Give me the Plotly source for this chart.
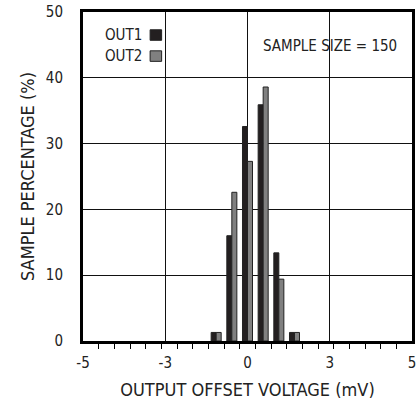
import plotly.graph_objects as go

# ---- data ----
n_bins = 21
x_min, x_max = -5.0, 5.0
bin_width = (x_max - x_min) / n_bins
bin_index = [8, 9, 10, 11, 12, 13]          # bins holding samples
out1_pct = [1.3, 16.0, 32.6, 35.9, 13.4, 1.3]
out2_pct = [1.3, 22.6, 27.3, 38.6, 9.4, 1.3]
tick_vals = [-5, -2.5, 0, 2.5, 5]
tick_text = ["-5", "-3", "0", "3", "5"]
y_ticks = [0, 10, 20, 30, 40, 50]

bin_centers = [x_min + bin_width * (i + 0.5) for i in bin_index]
bin_edges = [x_min + bin_width * k for k in range(1, n_bins)]

FONT = "DejaVu Sans Condensed, Liberation Sans Narrow, sans-serif"
FS = 15
DARK = "#231f20"
GRAY = "#808080"

fig = go.Figure()
fig.add_trace(go.Bar(x=bin_centers, y=out1_pct, name="OUT1",
                     marker=dict(color=DARK, line=dict(color="#222", width=1))))
fig.add_trace(go.Bar(x=bin_centers, y=out2_pct, name="OUT2",
                     marker=dict(color=GRAY, line=dict(color="#222", width=1))))

fig.update_layout(
    width=416, height=403,
    margin=dict(l=83, r=4, t=12, b=62),
    paper_bgcolor="white", plot_bgcolor="white",
    barmode="group", bargap=0.36, bargroupgap=0,
    showlegend=False,
    font=dict(family=FONT, size=FS, color="#222"),
)

fig.update_xaxes(
    range=[x_min, x_max], automargin=False,
    tickmode="array", tickvals=tick_vals, ticktext=tick_text,
    ticklabeloverflow="allow",
    ticks="outside", ticklen=6, tickcolor="rgba(0,0,0,0)",
    showgrid=True, gridcolor="#111", gridwidth=1,
    zeroline=False,
    showline=True, linecolor="black", linewidth=3, mirror=True,
    minor=dict(tickmode="array", tickvals=bin_edges, ticks="outside",
               ticklen=5, tickwidth=1, tickcolor="black", showgrid=False),
    title=dict(text="OUTPUT OFFSET VOLTAGE (mV)", standoff=13),
)
fig.update_yaxes(
    range=[0, 50], automargin=False,
    tickmode="array", tickvals=y_ticks,
    ticklabeloverflow="allow",
    ticks="", showgrid=True, gridcolor="#111", gridwidth=1,
    zeroline=False,
    showline=True, linecolor="black", linewidth=3, mirror=True,
    ticklabelstandoff=14,
    title=dict(text="SAMPLE PERCENTAGE (%)", standoff=7),
)

# legend drawn as text + swatches (text left of swatch, as in the reference)
for label, color, yc in [("OUT1", DARK, 46.5), ("OUT2", GRAY, 43.3)]:
    fig.add_annotation(x=-4.4, y=yc, text=label, showarrow=False,
                       xanchor="left", yanchor="middle",
                       font=dict(family=FONT, size=FS, color="#222"))
    fig.add_shape(type="rect", x0=-2.96, x1=-2.61, y0=yc - 0.8, y1=yc + 0.8,
                  fillcolor=color, line=dict(color="#222", width=1))

fig.add_annotation(x=2.52, y=44.8, text="SAMPLE SIZE = 150", showarrow=False,
                   xanchor="center", yanchor="middle",
                   font=dict(family=FONT, size=FS, color="#222"))

fig.write_html("out.html",
               config={"displayModeBar": False},
               post_script=("document.documentElement.style.overflow='hidden';"
                            "document.body.style.overflow='hidden';"
                            "document.body.style.margin='0';"
                            "document.body.style.padding='0';"))
